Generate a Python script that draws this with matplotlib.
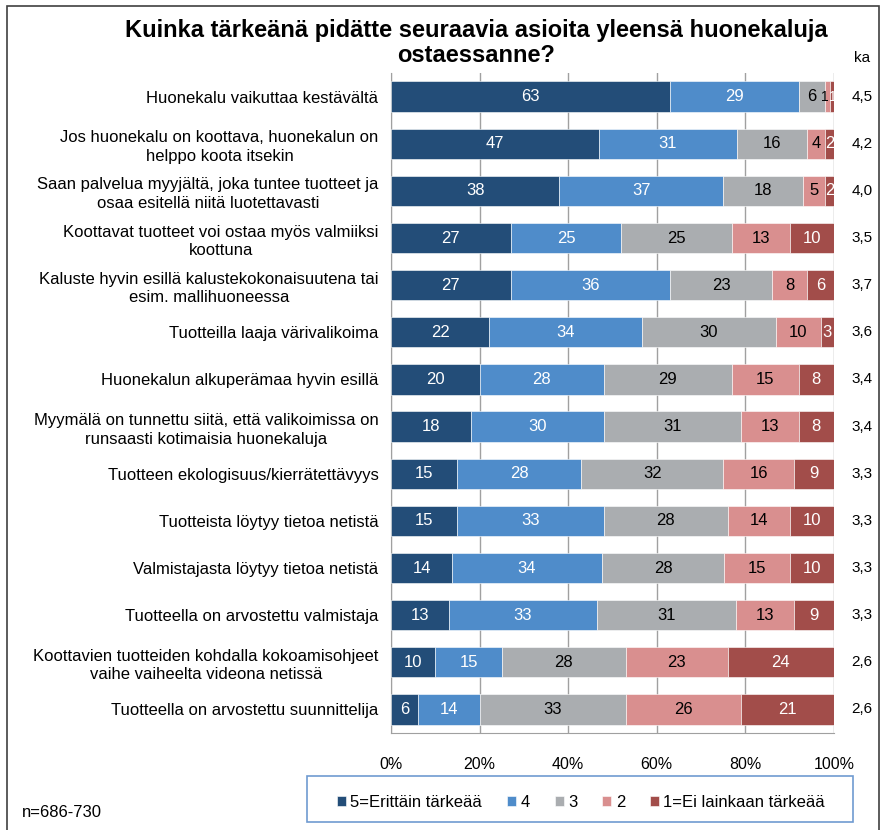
import numpy as np
import matplotlib
matplotlib.use("Agg")
import matplotlib.pyplot as plt
from matplotlib.patches import Rectangle

plt.rcParams['font.family'] = ['Liberation Sans', 'DejaVu Sans']

categories = [
    "Huonekalu vaikuttaa kestävältä",
    "Jos huonekalu on koottava, huonekalun on\nhelppo koota itsekin",
    "Saan palvelua myyjältä, joka tuntee tuotteet ja\nosaa esitellä niitä luotettavasti",
    "Koottavat tuotteet voi ostaa myös valmiiksi\nkoottuna",
    "Kaluste hyvin esillä kalustekokonaisuutena tai\nesim. mallihuoneessa",
    "Tuotteilla laaja värivalikoima",
    "Huonekalun alkuperämaa hyvin esillä",
    "Myymälä on tunnettu siitä, että valikoimissa on\nrunsaasti kotimaisia huonekaluja",
    "Tuotteen ekologisuus/kierrätettävyys",
    "Tuotteista löytyy tietoa netistä",
    "Valmistajasta löytyy tietoa netistä",
    "Tuotteella on arvostettu valmistaja",
    "Koottavien tuotteiden kohdalla kokoamisohjeet\nvaihe vaiheelta videona netissä",
    "Tuotteella on arvostettu suunnittelija",
]

v5 = [63, 47, 38, 27, 27, 22, 20, 18, 15, 15, 14, 13, 10, 6]
v4 = [29, 31, 37, 25, 36, 34, 28, 30, 28, 33, 34, 33, 15, 14]
v3 = [6, 16, 18, 25, 23, 30, 29, 31, 32, 28, 28, 31, 28, 33]
v2 = [1, 4, 5, 13, 8, 10, 15, 13, 16, 14, 15, 13, 23, 26]
v1 = [1, 2, 2, 10, 6, 3, 8, 8, 9, 10, 10, 9, 24, 21]
ka = ["4,5", "4,2", "4,0", "3,5", "3,7", "3,6", "3,4", "3,4", "3,3", "3,3", "3,3", "3,3", "2,6", "2,6"]

series_names = ["5=Erittäin tärkeää", "4", "3", "2", "1=Ei lainkaan tärkeää"]
colors = ["#234D78", "#4F8CCA", "#AAADB0", "#D98F8F", "#A24D4A"]
text_colors = ["white", "white", "black", "black", "white"]

data = np.array([v5, v4, v3, v2, v1], dtype=float)
shares = data / data.sum(axis=0) * 100

fig = plt.figure(figsize=(8.82, 8.30), dpi=100)
ax = fig.add_axes([391 / 882, 1 - 733 / 830, 443 / 882, 660 / 830])

y = np.arange(len(categories))
left = np.zeros(len(categories))
bars = []
for k in range(5):
    b = ax.barh(y, shares[k], left=left, height=0.64, color=colors[k],
                edgecolor="white", linewidth=0.4, label=series_names[k], zorder=3)
    bars.append(b)
    for i in range(len(categories)):
        val = int(data[k][i])
        xc = left[i] + shares[k][i] / 2
        fs = 12
        # two 1% slivers side by side: shrink and spread their labels a bit
        if val < 2:
            fs = 10
            xc += -0.6 if k == 3 else 0.3
        ax.text(xc, y[i], str(val), ha="center", va="center",
                color=text_colors[k], fontsize=fs, zorder=4)
    left += shares[k]

ax.set_xlim(0, 100)
ax.set_ylim(13.5, -0.5)
ax.set_xticks([0, 20, 40, 60, 80, 100])
ax.set_xticklabels(["0%", "20%", "40%", "60%", "80%", "100%"], fontsize=11.5)
ax.set_yticks(y)
ax.set_yticklabels(categories, fontsize=12, multialignment="center", linespacing=1.3)
ax.tick_params(axis="y", length=0, pad=9)
ax.tick_params(axis="x", length=0, pad=17)
ax.grid(axis="x", color="#A0A0A0", linewidth=1, zorder=0)
for s in ["top", "right"]:
    ax.spines[s].set_visible(False)
for s in ["left", "bottom"]:
    ax.spines[s].set_color("#A0A0A0")

# ka column
ax.text(1.063, -0.82, "ka", transform=ax.get_yaxis_transform(), ha="center", va="center",
        fontsize=11, clip_on=False)
for i in range(len(categories)):
    ax.text(1.063, y[i], ka[i], transform=ax.get_yaxis_transform(), ha="center",
            va="center", fontsize=11, clip_on=False)

fig.text(476 / 882, 1 - 43 / 830,
         "Kuinka tärkeänä pidätte seuraavia asioita yleensä huonekaluja\nostaessanne?",
         ha="center", va="center", fontsize=17, fontweight="bold", linespacing=1.15)

fig.text(22 / 882, 1 - 812 / 830, "n=686-730", ha="left", va="center", fontsize=12)

# legend box
fig.patches.append(Rectangle((307 / 882, 1 - 822 / 830), 546 / 882, 46 / 830,
                             transform=fig.transFigure, fill=False,
                             edgecolor="#6F9BD1", linewidth=1.2))
fig.legend(handles=bars, labels=series_names, loc="center", ncol=5,
           bbox_to_anchor=(581 / 882, 1 - 802 / 830), frameon=False, fontsize=12,
           handlelength=0.55, handleheight=0.55, handletextpad=0.25, columnspacing=1.5)

# outer border
fig.patches.append(Rectangle((7 / 882, -0.01), 872 / 882, 1 - 6 / 830 + 0.01,
                             transform=fig.transFigure, fill=False,
                             edgecolor="#404040", linewidth=1.2))

fig.savefig("out.png", dpi=100)
